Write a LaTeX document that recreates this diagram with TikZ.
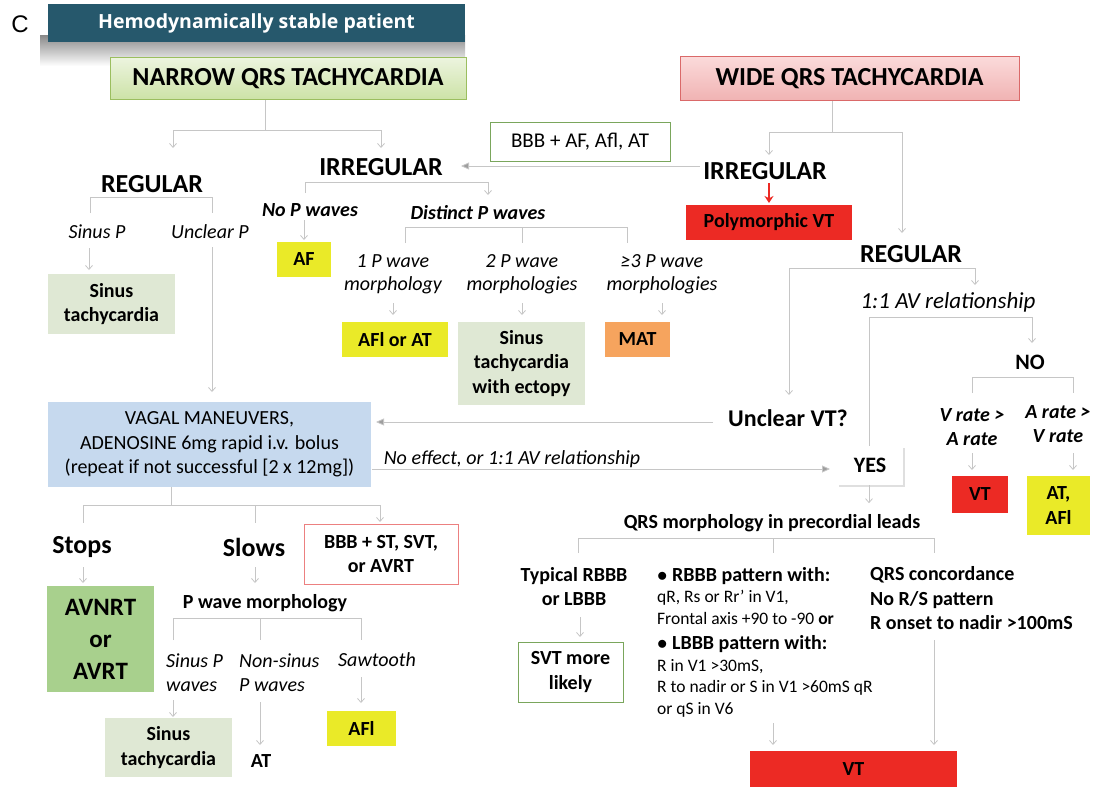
\documentclass[tikz,border=0pt]{standalone}
\usepackage{fontspec}
\setmainfont{Carlito}
\newfontfamily\letterfont{Liberation Sans}
\newfontfamily\barfont{Open Sans}
\usetikzlibrary{arrows.meta,shadows}

\definecolor{barteal}{RGB}{38,88,108}
\definecolor{narrowtop}{RGB}{236,244,222}
\definecolor{narrowbot}{RGB}{204,226,166}
\definecolor{narrowedge}{RGB}{155,190,95}
\definecolor{widetop}{RGB}{251,218,218}
\definecolor{widebot}{RGB}{240,178,178}
\definecolor{wideedge}{RGB}{218,105,105}
\definecolor{linegray}{RGB}{198,198,198}
\definecolor{alarmred}{RGB}{236,42,36}
\definecolor{flagyellow}{RGB}{234,234,40}
\definecolor{matorange}{RGB}{246,164,94}
\definecolor{palegreen}{RGB}{223,232,212}
\definecolor{avgreen}{RGB}{168,208,141}
\definecolor{vagalblue}{RGB}{198,217,238}
\definecolor{okgreen}{RGB}{122,166,92}
\definecolor{softred}{RGB}{236,128,128}

\begin{document}
\begin{tikzpicture}[x=1pt,y=-1pt,
    wire/.style={draw=linegray,line width=0.8pt},
    arr/.style={wire,-{Straight Barb[length=4pt,width=7pt]}},
    arrF/.style={wire,-{Triangle[length=8pt,width=7pt,fill=linegray!80!black]}},
    redarr/.style={draw=alarmred,line width=1.6pt,-{Stealth[length=7pt,width=9pt]}},
    head/.style={inner sep=0pt,font=\bfseries\fontsize{26}{30}\selectfont},
    sub/.style={inner sep=0pt,align=center,font=\bfseries\itshape\fontsize{20}{24}\selectfont},
    cond/.style={inner sep=0pt,align=center,font=\itshape\fontsize{20}{24}\selectfont},
    dx/.style={inner sep=0pt,align=center,font=\bfseries\fontsize{20}{24.5}\selectfont},
    box/.style={dx,inner sep=2pt},
    yellowbox/.style={box,fill=flagyellow},
    redbox/.style={box,fill=alarmred},
    orangebox/.style={box,fill=matorange},
    palebox/.style={box,fill=palegreen},
    greenline/.style={box,fill=white,draw=okgreen,line width=1pt}]
\useasboundingbox (0,0) rectangle (1093,808);

% top banner
\node[font=\letterfont\fontsize{24}{28}\selectfont,inner sep=0pt] (panel) at (20,24) {C};
\shade[top color=black!45,bottom color=white] (40,36) rectangle (465,66);
\node[fill=barteal,text=white,font=\barfont\bfseries\fontsize{19.5}{23}\selectfont,minimum width=417,minimum height=38,inner sep=0pt] (stable) at (256.5,23) {Hemodynamically stable patient};

% narrow and wide
\node[draw=narrowedge,line width=1pt,top color=narrowtop,bottom color=narrowbot,font=\bfseries\fontsize{26}{30}\selectfont,minimum width=356,minimum height=42] (narrow) at (288,79) {NARROW QRS TACHYCARDIA};
\node[draw=wideedge,line width=1pt,top color=widetop,bottom color=widebot,font=\bfseries\fontsize{26}{30}\selectfont,minimum width=339,minimum height=44] (wide) at (849.5,79) {WIDE QRS TACHYCARDIA};

% narrow QRS side
\node[head] (regL) at (152,184) {REGULAR};
\node[head] (irrL) at (381,167) {IRREGULAR};
\node[cond] (sinusP) at (97,232) {Sinus P};
\node[cond] (unclearP) at (210,232) {Unclear P};
\node[palebox,minimum width=127,minimum height=60] (sinusTach) at (111.5,304) {Sinus\\tachycardia};
\node[sub] (noP) at (310,210) {No P waves};
\node[yellowbox,minimum width=54,minimum height=35] (af) at (304,259.5) {AF};
\node[sub] (distinct) at (478,213) {Distinct P waves};
\node[cond,font=\itshape\fontsize{20}{23}\selectfont] (oneP) at (393,274) {1 P wave\\morphology};
\node[cond,font=\itshape\fontsize{20}{23}\selectfont] (twoP) at (522,274) {2 P wave\\morphologies};
\node[cond,font=\itshape\fontsize{20}{23}\selectfont] (threeP) at (662,274) {≥3 P wave\\morphologies};
\node[yellowbox,minimum width=106,minimum height=35] (aflAT) at (395,339.5) {AFl or AT};
\node[palebox,minimum width=127,minimum height=83] (ectopy) at (521.5,363.5) {Sinus\\tachycardia\\with ectopy};
\node[orangebox,minimum width=65,minimum height=35] (mat) at (637.5,339.5) {MAT};

% wide QRS side
\node[greenline,font=\fontsize{21}{25}\selectfont,minimum width=180,minimum height=39] (bbbAF) at (580,141.5) {BBB + AF, Afl, AT};
\node[head] (irrR) at (765,171) {IRREGULAR};
\node[redbox,minimum width=166,minimum height=35] (polyVT) at (769,222.5) {Polymorphic VT};
\node[head] (regR) at (911,254) {REGULAR};
\node[cond,font=\itshape\fontsize{23}{27}\selectfont] (avRel) at (948,302) {1:1 AV relationship};
\node[head,font=\bfseries\fontsize{22}{26}\selectfont] (no) at (1030,362) {NO};
\node[sub] (vRate) at (972,427) {V rate >\\A rate};
\node[sub] (aRate) at (1058,424.5) {A rate >\\V rate};
\node[redbox,minimum width=56,minimum height=37] (vtSmall) at (980,494.5) {VT};
\node[yellowbox,minimum width=63,minimum height=59] (atAfl) at (1058.5,505.5) {AT,\\AFl};
\node[head,font=\bfseries\fontsize{24}{28}\selectfont] (unclearVT) at (788,418) {Unclear VT?};
\node[box,fill=white,font=\bfseries\fontsize{22}{26}\selectfont,minimum width=66,minimum height=39,drop shadow={shadow xshift=2pt,shadow yshift=-2pt,fill=black!25}] (yes) at (870,465.5) {YES};

% vagal manoeuvres
\node[fill=vagalblue,align=center,font=\fontsize{20}{24.5}\selectfont,minimum width=323,minimum height=85] (vagal) at (209.5,444.5) {VAGAL MANEUVERS,\\ADENOSINE 6mg rapid i.v. bolus\\(repeat if not successful [2 x 12mg])};
\node[cond] (noEffect) at (512,459) {No effect, or 1:1 AV relationship};

% QRS morphology
\node[dx] (qrsMorph) at (772,523) {QRS morphology in precordial leads};
\node[dx] (typical) at (574,586.5) {Typical RBBB\\or LBBB};
\node[greenline,minimum width=105,minimum height=60] (svt) at (570.5,672) {SVT more\\likely};
\node[inner sep=0pt,align=left,anchor=north west,font=\fontsize{17.5}{21.5}\selectfont] (criteria) at (657,567) {{\bfseries\fontsize{20}{24}\selectfont $\bullet$ RBBB pattern with:}\\qR, Rs or Rr’ in V1,\\Frontal axis +90 to -90 \textbf{or}\\[4pt]{\bfseries\fontsize{20}{24}\selectfont $\bullet$ LBBB pattern with:}\\R in V1 >30mS,\\R to nadir or S in V1 >60mS qR\\or qS in V6};
\node[dx,align=left,anchor=west] (concord) at (870,598.5) {QRS concordance\\No R/S pattern\\R onset to nadir >100mS};
\node[redbox,minimum width=207,minimum height=36] (vtBig) at (853.5,769) {VT};

% adenosine response
\node[head] (stops) at (82,547) {Stops};
\node[head] (slows) at (254,547) {Slows};
\node[box,fill=white,draw=softred,line width=1pt,minimum width=154,minimum height=60] (bbbST) at (381,554) {BBB + ST, SVT,\\or AVRT};
\node[box,fill=avgreen,font=\bfseries\fontsize{25}{32}\selectfont,minimum width=107,minimum height=106] (avnrt) at (100.5,639) {AVNRT\\or\\AVRT};
\node[dx] (pMorph) at (265,603) {P wave morphology};
\node[cond,align=left,anchor=west] (sinusPw) at (166,672.5) {Sinus P\\waves};
\node[cond,align=left,anchor=west] (nonSinus) at (239,672.5) {Non-sinus\\P waves};
\node[cond] (sawtooth) at (377,660) {Sawtooth};
\node[palebox,minimum width=127,minimum height=59] (sinusTach2) at (168.5,747.5) {Sinus\\tachycardia};
\node[dx] (at) at (261,761) {AT};
\node[yellowbox,minimum width=69,minimum height=35] (afl) at (361.5,728.5) {AFl};

% connectors, narrow side
\draw[arr] (narrow.center) ++(-23,21) -- ++(0,30) -| ++(-92,18);
\draw[arr] (narrow.center) ++(-23,51) -| ++(116,18);
\draw[wire] (regL.center) ++(-62,29) |- ++(122,-16) -- ++(0,16);
\draw[arr] (sinusP.center) ++(-8,16) -- ++(0,22);
\draw[arr] (unclearP.center) ++(2,15) -- ++(0,145);
\draw[arr] (irrL.center) ++(-76,26) |- ++(183,-11) -- ++(0,13);
\draw[arr] (noP.center) ++(-6,10) -- ++(0,20);
\draw[wire] (distinct.center) ++(-73,30) |- ++(222,-16) -- ++(0,16);
\draw[wire] (distinct.center) ++(44,14) -- ++(0,16);
\draw[arr] (oneP.center) ++(0,29) -- ++(0,12);
\draw[arr] (twoP.center) ++(0,29) -- ++(0,12);
\draw[arr] (threeP.center) ++(0,29) -- ++(0,12);

% connectors, wide side
\draw[arrF] (irrR.center) ++(-65,-5) -- ++(-239,0);
\draw[arr] (wide.center) ++(-17.5,22) -- ++(0,31) -| ++(-63,23);
\draw[arr] (wide.center) ++(-17.5,53) -| ++(70,101);
\draw[redarr] (irrR.center) ++(4,12) -- ++(0,20);
\draw[arr] (regR.center) ++(-122,14) -- ++(0,127);
\draw[arr] (regR.center) ++(-122,14) -- ++(186,0) -- ++(0,17);
\draw[wire] (avRel.center) ++(-79,15) -- ++(0,129);
\draw[arr] (avRel.center) ++(-79,15) -- ++(163,0) -- ++(0,26);
\draw[wire] (no.center) ++(-58,31) |- ++(101,-16) -- ++(0,16);
\draw[arr] (vRate.center) ++(0,26) -- ++(0,17);
\draw[arr] (aRate.center) ++(15,28.5) -- ++(0,17);
\draw[arrF] (unclearVT.center) ++(-75,4) -- ++(-337,0);
\draw[arrF] (vagal.center) ++(162.5,24.5) -- ++(458,0);
\draw[arr] (yes.south) ++(-1,0) -- ++(0,18);
\draw[wire] (qrsMorph.center) ++(-194,30) |- ++(356,-15) -- ++(0,15);
\draw[wire] (qrsMorph.center) ++(1,15) -- ++(0,15);
\draw[arr] (typical.center) ++(6,30.5) -- ++(0,20);
\draw[arr] (vtBig.center) ++(-80.5,-46) -- ++(0,22);
\draw[arr] (vtBig.center) ++(80.5,-129) -- ++(0,105);

% connectors, adenosine response
\draw[wire] (vagal.center) ++(-38.5,42.5) -- ++(0,18) -| ++(-88,18);
\draw[wire] (vagal.center) ++(-38.5,60.5) -| ++(84,18);
\draw[arr] (vagal.center) ++(-38.5,60.5) -| ++(209,17);
\draw[arr] (stops.center) ++(1,20) -- ++(0,16);
\draw[arr] (slows.center) ++(1,20) -- ++(0,16);
\draw[wire] (pMorph.center) ++(-92,37) |- ++(188,-22) -- ++(0,22);
\draw[wire] (pMorph.center) ++(-5,15) -- ++(0,22);
\draw[arr] (sinusPw.west) ++(7,27.5) -- ++(0,17);
\draw[arr] (nonSinus.west) ++(21,29.5) -- ++(0,43);
\draw[arr] (sawtooth.center) ++(-16,17) -- ++(0,26);
\end{tikzpicture}
\end{document}
